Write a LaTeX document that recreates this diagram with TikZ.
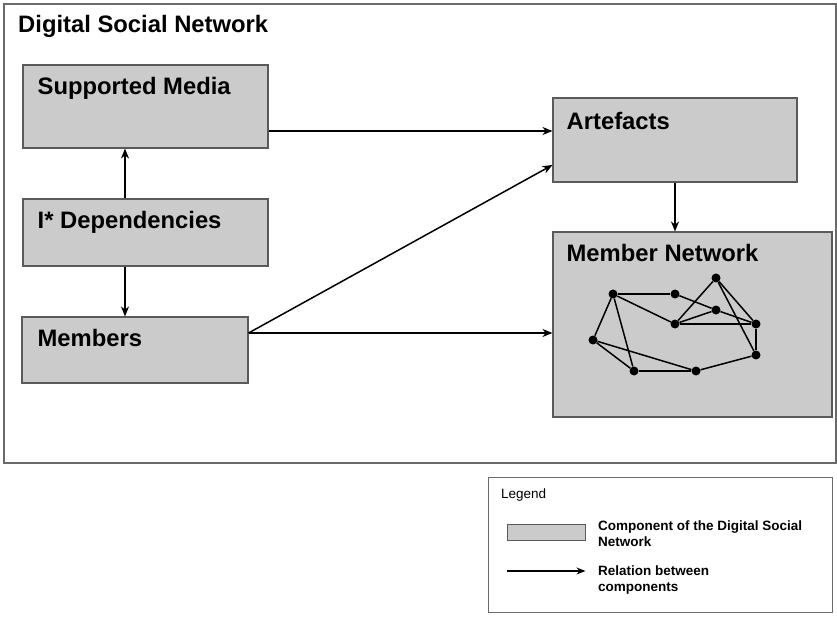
\documentclass[tikz,border=0pt]{standalone}
\usepackage{fontspec}
\setmainfont{Liberation Sans}
\usetikzlibrary{arrows.meta,fit,calc}

\definecolor{compfill}{HTML}{CBCBCB}
\definecolor{compline}{HTML}{5A5A5A}
\definecolor{frameline}{HTML}{6A6A6A}

\begin{document}
\begin{tikzpicture}[x=1pt,y=-1pt,
  frame/.style={draw=frameline,line width=1.2pt,inner sep=0pt,fill=white},
  comp/.style={draw=compline,line width=1.1pt,fill=compfill,inner sep=0pt},
  title/.style={font=\bfseries\fontsize{23.8}{28}\selectfont,anchor=base west,inner sep=0pt},
  small/.style={font=\bfseries\fontsize{13.5}{16}\selectfont,anchor=base west,inner sep=0pt},
  rel/.style={draw=black,line width=1.5pt,-{Stealth[length=10pt,width=8pt]}},
  link/.style={draw=black,line width=1.5pt},
  dot/.style={circle,fill=black,inner sep=0pt,minimum size=9pt},
]
\useasboundingbox (0,0) rectangle (837,617);
\fill[white] (0,0) rectangle (837,617);

% outer frame of the network
\node[frame,fit={(4,4) (836,463)}] (dsn) {};
\node[title] (dsnlbl) at (18,33) {Digital Social Network};

% components
\node[comp,fit={(23,65) (268,148)}] (sm) {};
\node[comp,fit={(23,199) (268,266)}] (dep) {};
\node[comp,fit={(22,317) (248,383)}] (mem) {};
\node[comp,fit={(553,98) (797,182)}] (art) {};
\node[comp,fit={(553,232) (832,417)}] (mn) {};

\node[title] (smlbl) at ([shift={(15,30)}]sm.north west) {Supported Media};
\node[title] (deplbl) at ([shift={(15,30)}]dep.north west) {I* Dependencies};
\node[title] (memlbl) at ([shift={(16,30)}]mem.north west) {Members};
\node[title] (artlbl) at ([shift={(14,32)}]art.north west) {Artefacts};
\node[title] (mnlbl) at ([shift={(14,30)}]mn.north west) {Member Network};

% relations between components
\draw[rel] ([yshift=-24.5pt]sm.east) coordinate (smout) -- (art.west |- smout);
\draw[rel] ([xshift=-20.5pt]dep.north) coordinate (depup) -- (sm.south -| depup);
\draw[rel] ([xshift=-20.5pt]dep.south) coordinate (depdn) -- (mem.north -| depdn);
\draw[rel] ([yshift=17pt]mem.east) coordinate (memout) -- ([yshift=-25pt]art.west);
\draw[rel] (memout) -- (mn.west |- memout);
\draw[rel] (art.south) -- (mn.north -| art.south);

% member graph
\node[dot] (g1) at (613,294) {};
\node[dot] (g2) at (675,294) {};
\node[dot] (g3) at (716,278) {};
\node[dot] (g4) at (716,310) {};
\node[dot] (g5) at (675,324) {};
\node[dot] (g6) at (756,324) {};
\node[dot] (g7) at (593,340) {};
\node[dot] (g8) at (756,355) {};
\node[dot] (g9) at (634,371) {};
\node[dot] (g10) at (696,371) {};
\foreach \a/\b in {g1/g2,g1/g5,g1/g7,g1/g9,g2/g4,g4/g6,g5/g4,g5/g3,g5/g6,
                   g3/g6,g3/g8,g6/g8,g7/g9,g7/g10,g9/g10,g10/g8}
  \draw[link] (\a) -- (\b);

% legend
\node[frame,line width=1pt,fit={(488,477) (832,612)}] (leg) {};
\node[small,font=\fontsize{13.5}{16}\selectfont] (leglbl) at (501,498) {Legend};
\node[comp,line width=1pt,fit={(507,524) (585,540)}] (legbox) {};
\node[small] (legc1) at (598,530) {Component of the Digital Social};
\node[small] (legc2) at (598,546) {Network};
\coordinate (legarr) at (507,571);
\draw[rel,line width=1.3pt,-{Stealth[length=9pt,width=7pt]}] (legarr) -- (legbox.east |- legarr);
\node[small] (legr1) at (598,575) {Relation between};
\node[small] (legr2) at (598,591) {components};
\end{tikzpicture}
\end{document}
